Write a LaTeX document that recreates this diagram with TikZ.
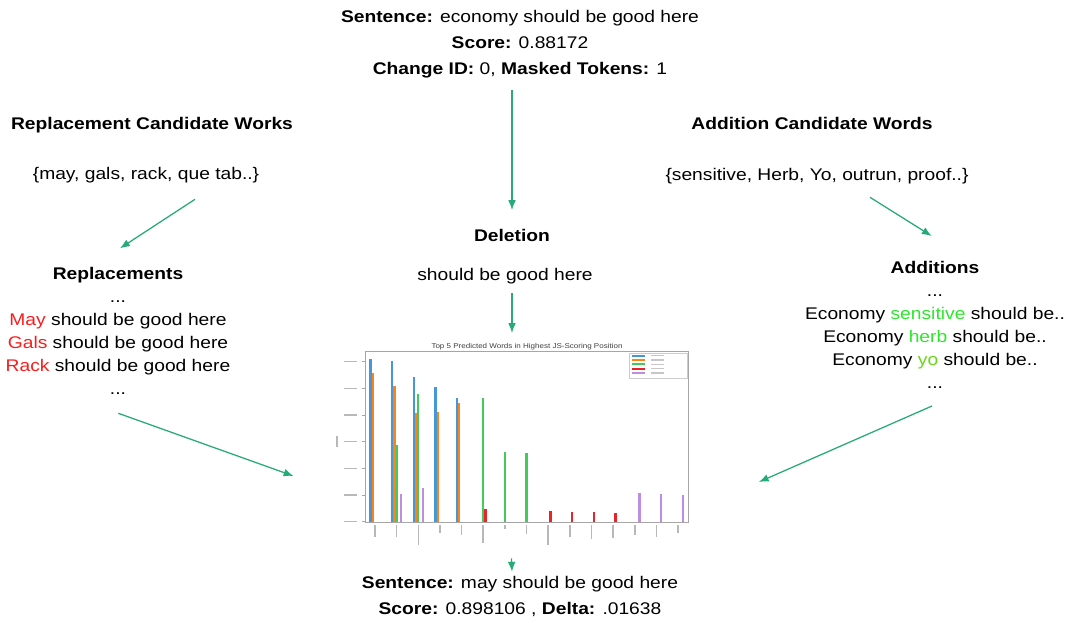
\documentclass[tikz,border=0pt]{standalone}
\usepackage{fontspec}
\setmainfont{Liberation Sans}[FakeStretch=1.14]
\usetikzlibrary{arrows.meta,calc}

\definecolor{flowc}{RGB}{38,170,118}
\definecolor{repred}{RGB}{250,28,28}
\definecolor{addgreen}{RGB}{45,230,45}
\definecolor{addlime}{RGB}{105,215,25}
\definecolor{bar0}{RGB}{70,150,220}
\definecolor{bar1}{RGB}{255,130,20}
\definecolor{bar2}{RGB}{70,200,90}
\definecolor{bar3}{RGB}{235,35,40}
\definecolor{bar4}{RGB}{190,140,225}

\begin{document}
\begin{tikzpicture}[x=0.025cm,y=-0.025cm,
  txt/.style={font=\fontsize{12}{16.4}\selectfont,align=center,inner sep=0pt,anchor=north},
  flow/.style={draw=flowc,line width=0.9pt,-{Latex[length=7pt,width=5.5pt]}},
  blur/.style={black!28,line width=1.1pt},
]
%
\useasboundingbox (0,0) rectangle (1068,623);
%
\node[txt,font=\fontsize{12}{18.5}\selectfont] (orig) at (520,10) {\textbf{Sentence:} economy should be good here\\\textbf{Score:} 0.88172\\\textbf{Change ID:} 0, \textbf{Masked Tokens:} 1};
%
\node[txt] (repcand) at (152,117) {\textbf{Replacement Candidate Works}};
\node[txt] (repset) at (146,167) {\{may, gals, rack, que tab..\}};
\node[txt] (repl) at (118,267) {\textbf{Replacements}\\...\\\textcolor{repred}{May} should be good here\\\textcolor{repred}{Gals} should be good here\\\textcolor{repred}{Rack} should be good here\\...};
%
\node[txt] (addcand) at (812,117) {\textbf{Addition Candidate Words}};
\node[txt] (addset) at (817,168) {\{sensitive, Herb, Yo, outrun, proof..\}};
\node[txt] (addn) at (935,261) {\textbf{Additions}\\...\\Economy \textcolor{addgreen}{sensitive} should be..\\Economy \textcolor{addgreen}{herb} should be..\\Economy \textcolor{addlime}{yo} should be..\\...};
%
\node[txt] (del) at (512,229) {\textbf{Deletion}};
\node[txt] (deltext) at (505,268) {should be good here};
%
\node[minimum width=9.125cm,minimum height=5.45cm,inner sep=0pt] (chart) at (517.5,449) {};
%
\node[txt,font=\fontsize{12}{18.5}\selectfont] (result) at (520,576) {\textbf{Sentence:} may should be good here\\\textbf{Score:} 0.898106 , \textbf{Delta:} .01638};
%
% chart
\node[font=\fontsize{5}{6}\selectfont,text=black!75,inner sep=0pt] (charttitle) at (527,347) {Top 5 Predicted Words in Highest JS-Scoring Position};
\foreach \g/\s/\t in {0/0/359.3,0/1/373.3,1/0/361,1/1/386,1/2/445,1/4/494.3,2/0/376.7,2/1/412.7,2/2/394.3,2/4/487.7,3/0/386.7,3/1/411.7,4/0/398.3,4/1/403.3,5/2/397.7,5/3/509,6/2/452.3,7/2/453.3,8/3/510.7,9/3/511.7,10/3/512,11/3/512.7,12/4/493.3,13/4/493.7,14/4/494.7}
  \fill[fill=bar\s] ({375+21.65*\g+2.3*(\s-2)-1.15},\t) rectangle ({375+21.65*\g+2.3*(\s-2)+1.15},521.7);
\draw[black!35,line width=0.5pt] (365,351) rectangle (688,522);
\foreach \ty in {361.7,388.3,415,441.7,468.3,495,521.7} {
  \draw[black!35,line width=0.4pt] (362,\ty) -- (365,\ty);
  \draw[blur] (344,\ty) -- (357,\ty);
}
\draw[blur] (337,436) -- (337,447);
\foreach \g/\len in {0/12,1/12,2/20,3/8,4/10,5/18,6/4,7/9,8/20,9/12,10/14,11/13,12/10,13/12,14/8}
  \draw[blur] ({375+21.65*\g},525) -- ({375+21.65*\g},{525+\len});
\draw[black!20,fill=white,line width=0.4pt] (629,353) rectangle (687,378);
\foreach \s/\ly in {0/355.7,1/360,2/364.3,3/368.7,4/373} {
  \draw[bar\s,line width=1.4pt] (632,\ly) -- (645,\ly);
  \draw[black!22,line width=0.9pt] (651,\ly) -- (664,\ly);
}
%
\draw[flow] ($(orig.north)+(-8,80)$) -- ($(del.north)+(0,-19)$);
\draw[flow] ($(deltext.north)+(7,25.3)$) -- ($(chart.north)+(-5.5,-6.7)$);
\draw[flow] ($(repset.north)+(49,32.3)$) -- ($(repl.north)+(2,-18.7)$);
\draw[flow] ($(repl.north)+(0.3,146.3)$) -- ($(chart.west)+(-41.2,27)$);
\draw[flow] ($(addset.north)+(53,29.3)$) -- ($(addn.north)+(-3.3,-25)$);
\draw[flow] ($(addn.north)+(-3,145)$) -- ($(chart.east)+(58.5,33)$);
\draw[flow] ($(chart.south)+(-6,0)$) -- ($(result.north)+(-8,-4.3)$);
%
\end{tikzpicture}
\end{document}
